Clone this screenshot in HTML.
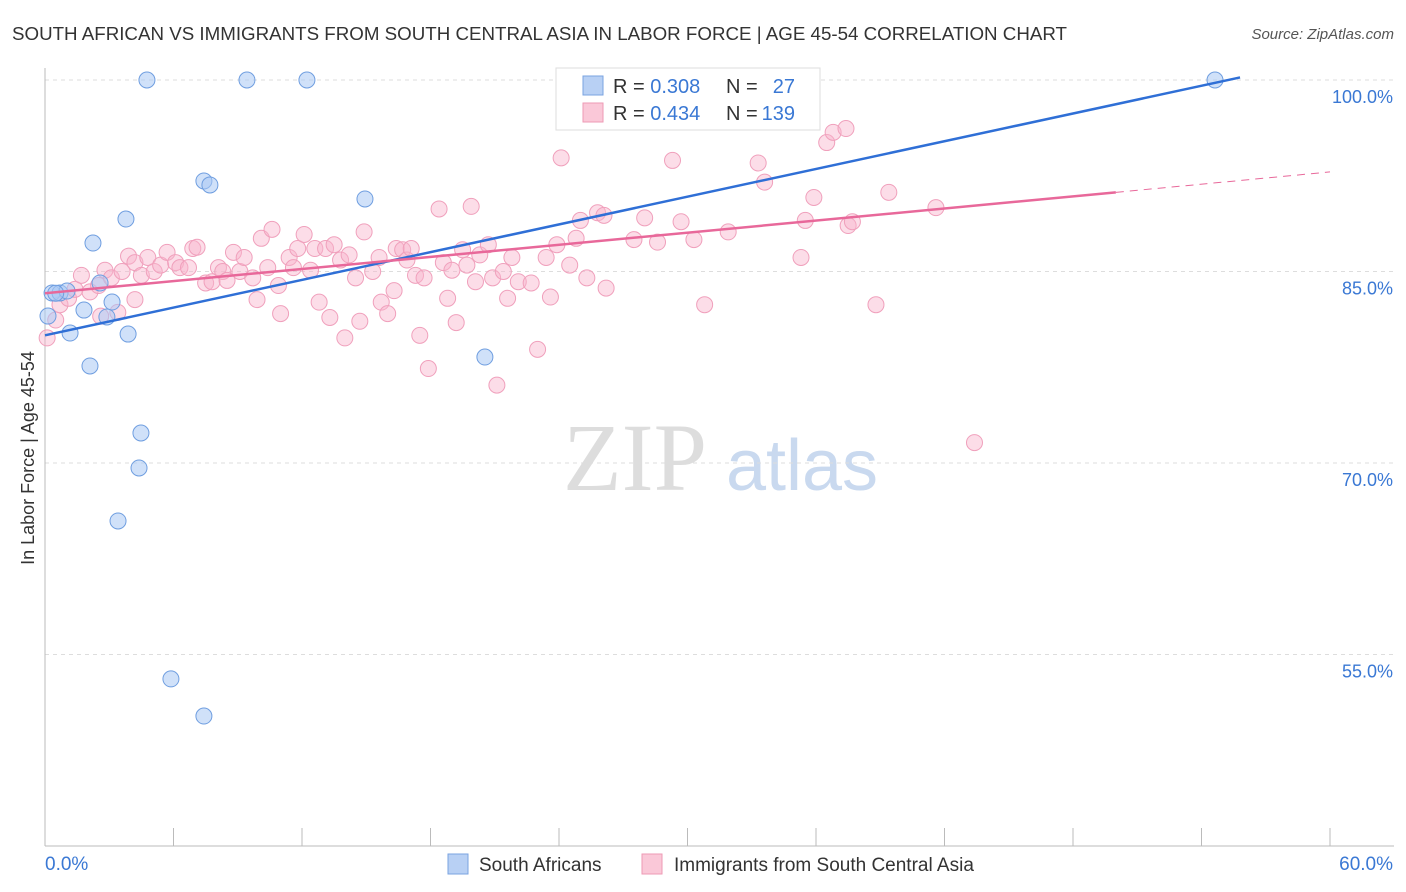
<!DOCTYPE html>
<html><head><meta charset="utf-8">
<style>
body{margin:0;background:#fff;font-family:"Liberation Sans",sans-serif;}
svg{display:block}
</style></head>
<body>
<svg id="chart" width="1406" height="892" xmlns="http://www.w3.org/2000/svg">
<text x="12" y="40" font-size="18" fill="#333" textLength="1055" lengthAdjust="spacingAndGlyphs">SOUTH AFRICAN VS IMMIGRANTS FROM SOUTH CENTRAL ASIA IN LABOR FORCE | AGE 45-54 CORRELATION CHART</text>
<text x="1394" y="39" font-size="15" fill="#555" font-style="italic" text-anchor="end">Source: ZipAtlas.com</text>
<text transform="translate(34,458) rotate(-90)" font-size="18" fill="#333" text-anchor="middle">In Labor Force | Age 45-54</text>
<g>
<text x="635" y="490" font-size="96" fill="#ddd" text-anchor="middle" font-family="Liberation Serif,serif">ZIP</text>
<text x="802" y="490" font-size="72" fill="#c9d9ef" text-anchor="middle">atlas</text>
</g>
<g id="grid"></g>
<g id="axes"></g>
<g id="pts"></g>
<g id="lines"></g>
<g>
<rect x="556" y="68" width="264" height="62" fill="#fff" stroke="#ddd"/>
<rect x="583" y="76" width="20" height="19" fill="#b8d0f4" stroke="#7aa3e0"/>
<text x="613" y="93" font-size="20" fill="#333">R = <tspan fill="#3a78d4">0.308</tspan></text>
<text x="726" y="93" font-size="20" fill="#333">N =</text>
<text x="795" y="93" font-size="20" fill="#3a78d4" text-anchor="end">27</text>
<rect x="583" y="103" width="20" height="19" fill="#fac8d8" stroke="#ee9ab4"/>
<text x="613" y="120" font-size="20" fill="#333">R = <tspan fill="#3a78d4">0.434</tspan></text>
<text x="726" y="120" font-size="20" fill="#333">N =</text>
<text x="795" y="120" font-size="20" fill="#3a78d4" text-anchor="end">139</text>
</g>
<g>
<rect x="448" y="854" width="20" height="20" fill="#b8d0f4" stroke="#7aa3e0"/>
<text x="479" y="871" font-size="19" fill="#333">South Africans</text>
<rect x="642" y="854" width="20" height="20" fill="#fac8d8" stroke="#ee9ab4"/>
<text x="674" y="871" font-size="19" fill="#333">Immigrants from South Central Asia</text>
</g>
</svg>
<script>
const xTickVals=[0,6,12,18,24,30,36,42,48,54,60];
const yTickVals=[100,85,70,55];
const yTickLabels=["100.0%","85.0%","70.0%","55.0%"];
const xEndLabels=["0.0%","60.0%"];
const blueX=[4.76,9.43,12.23,54.63,7.42,7.70,14.94,3.78,2.24,0.33,0.70,1.03,3.13,1.82,1.17,2.89,3.88,2.10,20.54,4.48,4.39,3.41,5.88,7.42,0.14,2.57,0.5];
const blueY=[100,100,100,100,92.09,91.78,90.68,89.11,87.23,83.32,83.32,83.47,82.61,81.98,80.18,81.44,80.10,77.60,78.30,72.35,69.61,65.46,53.09,50.18,81.51,84.10,83.3];
const pinkX=[0.1,0.5,0.7,1.1,1.4,1.7,2.1,2.5,2.8,3.1,3.4,3.6,3.9,4.2,4.5,4.8,5.1,5.4,5.7,6.1,6.3,6.7,6.9,7.1,7.5,7.8,8.1,8.3,8.5,8.8,9.1,9.3,9.7,9.9,10.1,10.4,10.6,10.9,11.0,11.4,11.6,11.8,12.1,12.4,12.6,12.8,13.1,13.3,13.5,13.8,14.0,14.2,14.5,14.7,14.9,15.3,15.6,15.7,16.0,16.3,16.4,16.7,16.9,17.1,17.3,17.5,17.7,17.9,18.4,18.6,18.8,19.0,19.2,19.5,19.7,19.9,20.1,20.3,20.7,20.9,21.1,21.4,21.6,21.8,22.1,22.7,23.0,23.4,23.6,23.9,24.1,24.5,24.8,25.0,25.3,25.8,26.1,26.2,27.5,28.0,28.6,29.3,29.7,30.3,30.8,31.9,33.3,33.6,35.3,35.5,35.9,36.5,36.8,37.4,37.5,37.7,38.8,39.4,41.6,43.4,2.6,4.2];
const pinkY=[79.8,81.2,82.4,82.9,83.6,84.7,83.4,83.9,85.1,84.5,81.8,85.0,86.2,85.7,84.7,86.1,85.0,85.5,86.5,85.7,85.3,85.3,86.8,86.9,84.1,84.2,85.3,85.0,84.3,86.5,85.0,86.1,84.5,82.8,87.6,85.3,88.3,83.9,81.7,86.1,85.3,86.8,87.9,85.1,86.8,82.6,86.8,81.4,87.1,85.9,79.8,86.3,84.5,81.1,88.1,85.0,86.1,82.6,81.7,83.5,86.8,86.7,85.9,86.8,84.7,80.0,84.5,77.4,89.9,85.7,82.9,85.1,81.0,86.7,85.5,90.1,84.2,86.3,87.1,84.5,76.1,85.0,82.9,86.1,84.2,84.1,78.9,86.1,83.0,87.1,93.9,85.5,87.6,89.0,84.5,89.6,89.4,83.7,87.5,89.2,87.3,93.7,88.9,87.5,82.4,88.1,93.5,92.0,86.1,89.0,90.8,95.1,95.9,96.2,88.6,88.9,82.4,91.2,90.0,71.6,81.5,82.8];
const blueTrend=[[0,80.0],[55.8,100.2]];
const pinkTrend=[[0,83.3],[50,91.2]];
const pinkTrendExt=[[50,91.2],[60,92.8]];

const NS="http://www.w3.org/2000/svg";
const X0=45,X1=1330,Y100=80,PX15=191.5;
function sx(v){return X0+(X1-X0)*v/60;}
function sy(v){return Y100+(100-v)/15*PX15;}
function mk(tag,attrs,parent){const e=document.createElementNS(NS,tag);for(const k in attrs)e.setAttribute(k,attrs[k]);document.getElementById(parent).appendChild(e);return e;}

yTickVals.forEach((v,i)=>{
  const l=mk('line',{x1:45,x2:1394,y1:sy(v),y2:sy(v),stroke:'#ddd','stroke-dasharray':'4,4'},'grid');
  
  
  const t=mk('text',{x:1393,y:sy(v)+23,'font-size':18,fill:'#3a78d4','text-anchor':'end'},'axes');
  t.textContent=yTickLabels[i];
  
  
});
const ax=mk('line',{x1:45,x2:45,y1:68,y2:846,stroke:'#bbb'},'axes');


const bx=mk('line',{x1:45,x2:1394,y1:846,y2:846,stroke:'#bbb'},'axes');


xTickVals.forEach(v=>{
  const t=mk('line',{x1:sx(v),x2:sx(v),y1:828,y2:846,stroke:'#bbb'},'axes');
  
  
});
[[0,45,'start'],[60,1393,'end']].forEach((a,i)=>{
  const t=mk('text',{x:a[1],y:870,'font-size':19,fill:'#3a78d4','text-anchor':a[2]},'axes');
  t.textContent=xEndLabels[i];
  
  
});
pinkX.forEach((v,i)=>{
  const c=mk('circle',{cx:sx(v),cy:sy(pinkY[i]),r:8,fill:'rgba(248,180,204,0.45)',stroke:'#f0a0bc','stroke-width':1},'pts');
  
  
});
blueX.forEach((v,i)=>{
  const c=mk('circle',{cx:sx(v),cy:sy(blueY[i]),r:8,fill:'rgba(170,200,244,0.55)',stroke:'#6f9ee0','stroke-width':1},'pts');
  
  
});
const bl=mk('line',{x1:sx(blueTrend[0][0]),y1:sy(blueTrend[0][1]),x2:sx(blueTrend[1][0]),y2:sy(blueTrend[1][1]),stroke:'#2f6fd6','stroke-width':2.5},'lines');


const pl=mk('line',{x1:sx(pinkTrend[0][0]),y1:sy(pinkTrend[0][1]),x2:sx(pinkTrend[1][0]),y2:sy(pinkTrend[1][1]),stroke:'#e8689a','stroke-width':2.5},'lines');


const pd=mk('line',{x1:sx(pinkTrendExt[0][0]),y1:sy(pinkTrendExt[0][1]),x2:sx(pinkTrendExt[1][0]),y2:sy(pinkTrendExt[1][1]),stroke:'#e8689a','stroke-width':1,'stroke-dasharray':'8,6'},'lines');


</script>
</body></html>
